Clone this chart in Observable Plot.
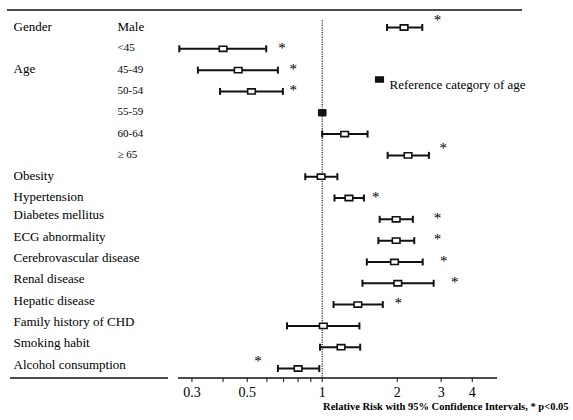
<!DOCTYPE html>
<html>
<head>
<meta charset="utf-8">
<script src="https://cdn.jsdelivr.net/npm/d3@7"></script>
<script src="https://cdn.jsdelivr.net/npm/@observablehq/plot@0.6"></script>
<style>
  html, body { margin: 0; padding: 0; background: #fff; }
  #chart svg { display: block; }
</style>
</head>
<body>
<div id="chart"></div>
<script>
// ---- data ----
const groupLabels = ["Gender", "", "Age", "", "", "", "", "Obesity", "Hypertension", "Diabetes mellitus",
  "ECG abnormality", "Cerebrovascular disease", "Renal disease", "Hepatic disease",
  "Family history of CHD", "Smoking habit", "Alcohol consumption"];
const subLabels = ["Male", "<45", "45-49", "50-54", "55-59", "60-64", "\u2265 65", "", "", "", "", "", "", "", "", "", ""];
const rr = [2.13, 0.40, 0.46, 0.52, 1.0, 1.23, 2.21, 0.99, 1.28, 1.98, 1.98, 1.95, 2.01, 1.39, 1.01, 1.19, 0.80];
const lo = [1.82, 0.267, 0.317, 0.389, null, 1.0, 1.83, 0.855, 1.12, 1.70, 1.68, 1.51, 1.45, 1.11, 0.722, 0.98, 0.664];
const hi = [2.52, 0.596, 0.664, 0.695, null, 1.52, 2.68, 1.15, 1.47, 2.31, 2.34, 2.53, 2.80, 1.75, 1.41, 1.42, 0.973];
const starX = [2.9, 0.69, 0.765, 0.765, null, null, 3.06, null, 1.64, 2.9, 2.9, 3.07, 3.40, 2.02, null, null, 0.552];
const raisedStar = [true, false, false, false, false, false, true, false, false, false, false, false, false, false, false, false, true];
const referenceRow = 4;
const tickValues = [0.3, 0.4, 0.5, 0.6, 0.7, 0.8, 0.9, 1, 2, 3, 4];
const tickLabels = [0.3, 0.5, 1, 2, 3, 4];
const legendText = "Reference category of age";
const axisTitle = "Relative Risk with 95% Confidence Intervals, * p<0.05";

const rows = rr.map((v, i) => ({
  row: i, group: groupLabels[i], sub: subLabels[i], rr: v, lo: lo[i], hi: hi[i],
  star: starX[i], raised: raisedStar[i], ref: i === referenceRow
}));
const ciRows = rows.filter(d => d.lo != null);
const starRows = rows.filter(d => d.star != null);

const capSymbol = { draw(ctx) { ctx.moveTo(0, -3.5); ctx.lineTo(0, 3.5); } };
const boxSymbol = { draw(ctx) { ctx.rect(-3.8, -2.6, 7.6, 5.2); } };
const refSymbol = { draw(ctx) { ctx.rect(-3.8, -3.2, 7.6, 6.4); } };

const font = "'Liberation Serif', 'Times New Roman', serif";

const plot = Plot.plot({
  width: 573,
  height: 420,
  marginLeft: 178,
  marginRight: 76,
  marginTop: 20,
  marginBottom: 42,
  style: { fontFamily: font, fontSize: "13px", color: "#111", background: "#fff" },
  x: { type: "log", domain: [0.265, 5.05] },
  y: { domain: [0, 16], range: [27, 368], axis: null },
  marks: [
    Plot.ruleX([1], { stroke: "#222", strokeWidth: 1.2, strokeDasharray: "1.2,1.2" }),
    Plot.ruleY(ciRows, { y: "row", x1: "lo", x2: "hi", stroke: "#111", strokeWidth: 2 }),
    Plot.dot(ciRows, { x: "lo", y: "row", symbol: capSymbol, stroke: "#111", strokeWidth: 2, r: 3 }),
    Plot.dot(ciRows, { x: "hi", y: "row", symbol: capSymbol, stroke: "#111", strokeWidth: 2, r: 3 }),
    Plot.dot(rows.filter(d => !d.ref), { x: "rr", y: "row", symbol: boxSymbol, fill: "#fff", stroke: "#111", strokeWidth: 1.6, r: 3 }),
    Plot.dot(rows.filter(d => d.ref), { x: "rr", y: "row", symbol: refSymbol, fill: "#111", stroke: "#111", strokeWidth: 1, r: 3 }),
    Plot.text(starRows.filter(d => !d.raised), { x: "star", y: "row", text: () => "*", fontSize: 15, dy: -1, fill: "black" }),
    Plot.text(starRows.filter(d => d.raised), { x: "star", y: "row", text: () => "*", fontSize: 15, dy: -7, fill: "black" }),
    Plot.text(rows.filter(d => d.group && d.row <= 8), { y: "row", text: "group", frameAnchor: "left", textAnchor: "start", dx: 13 - 178, dy: -1, fontSize: 13, fill: "black" }),
    Plot.text(rows.filter(d => d.group && d.row > 8), { y: "row", text: "group", frameAnchor: "left", textAnchor: "start", dx: 13 - 178, dy: -4, fontSize: 13, fill: "black" }),
    Plot.text(rows.filter(d => d.sub), { y: "row", text: "sub", frameAnchor: "left", textAnchor: "start", dx: 117 - 178, dy: -1, fontSize: d => d.row === 0 ? 13 : 11, fill: "black" }),
    Plot.dot([legendText], { frameAnchor: "top-left", dx: 379 - 178, dy: 79 - 20, symbol: boxSymbol, fill: "#111", stroke: "#111", r: 3 }),
    Plot.text([legendText], { frameAnchor: "top-left", text: d => d, textAnchor: "start", dx: 389 - 178, dy: 79 - 20, fontSize: 13, fill: "black" }),
    Plot.axisX({ ticks: tickValues, tickFormat: d => tickLabels.includes(d) ? String(d) : "", tickSize: 4, tickPadding: 5, fontSize: 14, label: null, stroke: "#111", fill: "black" }),
    Plot.text([axisTitle], { frameAnchor: "bottom-right", text: d => d, textAnchor: "end", dx: 71, dy: 31, fontSize: 10.5, fontWeight: "bold", fill: "black" })
  ]
});

document.getElementById("chart").appendChild(plot);

// decorative rules: top rule, bottom-left rule, and axis baseline
const svg = d3.select(plot);
const xr = plot.scale("x").range;
const axisY = 420 - 42;
svg.append("line").attr("x1", 7).attr("x2", 522).attr("y1", 10).attr("y2", 10)
  .attr("stroke", "#111").attr("stroke-width", 1.5);
svg.append("line").attr("x1", 10).attr("x2", 168).attr("y1", axisY).attr("y2", axisY)
  .attr("stroke", "#111").attr("stroke-width", 1.5);
svg.append("line").attr("x1", xr[0]).attr("x2", xr[1]).attr("y1", axisY).attr("y2", axisY)
  .attr("stroke", "#111").attr("stroke-width", 1.5);
</script>
</body>
</html>
